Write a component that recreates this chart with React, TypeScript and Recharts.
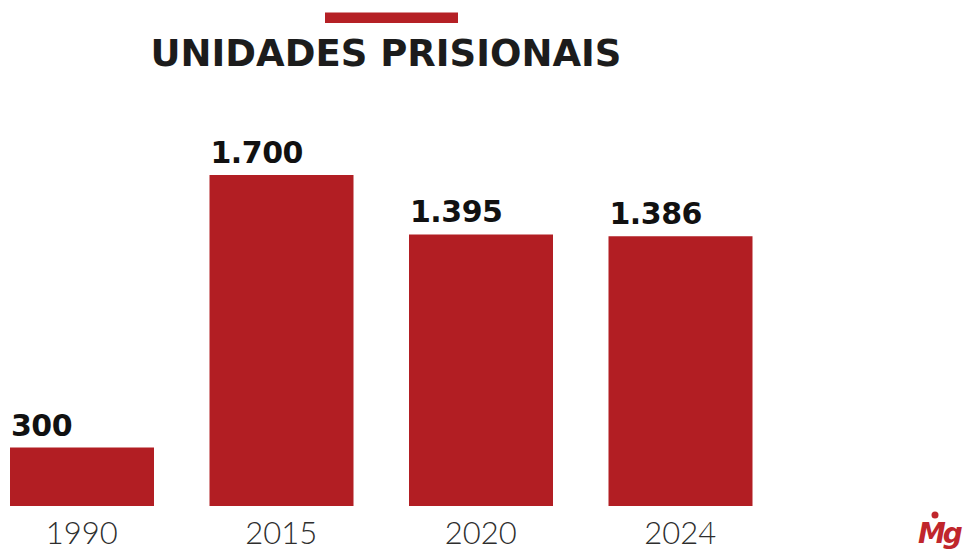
import { Bar, BarChart, Cell, LabelList, XAxis, YAxis } from "recharts"

// Número de unidades prisionais por ano
const anos = ["1990", "2015", "2020", "2024"]
const unidades = [300, 1700, 1395, 1386]

const data = anos.map((ano, i) => ({ ano, unidades: unidades[i] }))

const RED = "#b21e23"

// formato pt-BR: 1700 -> 1.700
function fmt(v: number) {
  return String(v).replace(/\B(?=(\d{3})+(?!\d))/g, ".")
}

function ValueLabel(props: any) {
  const { x, y, value } = props
  return (
    <text
      x={Number(x) + 1}
      y={Number(y) - 12}
      textAnchor="start"
      fill="#111"
      fontFamily="DejaVu Sans"
      fontWeight={700}
      fontSize={30}
      letterSpacing={-0.5}
    >
      {fmt(value)}
    </text>
  )
}

function YearTick(props: any) {
  const { x, y, payload } = props
  return (
    <text
      x={x}
      y={Number(y) + 30}
      textAnchor="middle"
      fill="#2e2e2e"
      fontFamily="Lato"
      fontWeight={300}
      fontSize={31}
    >
      {payload.value}
    </text>
  )
}

export default function App() {
  return (
    <div style={{ position: "absolute", left: 0, top: 0, width: 967, height: 553, background: "#fff" }}>
      <BarChart
        width={967}
        height={553}
        data={data}
        margin={{ top: 175, right: 187, left: -18, bottom: 0 }}
      >
        <XAxis
          dataKey="ano"
          axisLine={false}
          tickLine={false}
          height={47}
          interval={0}
          tick={<YearTick />}
        />
        <YAxis hide domain={[0, 1700]} />
        <Bar dataKey="unidades" barSize={144} isAnimationActive={false}>
          {data.map((d) => (
            <Cell key={d.ano} fill={RED} />
          ))}
          <LabelList dataKey="unidades" content={<ValueLabel />} />
        </Bar>
      </BarChart>
      <svg
        width={967}
        height={553}
        style={{ position: "absolute", left: 0, top: 0, pointerEvents: "none" }}
      >
        <rect x={325} y={12.5} width={133} height={10.5} fill="#b52025" />
        <text
          x={386}
          y={66}
          textAnchor="middle"
          fill="#1c1c1c"
          fontFamily="DejaVu Sans"
          fontWeight={700}
          fontSize={37}
        >
          UNIDADES PRISIONAIS
        </text>
        <text
          x={918}
          y={543}
          fill="#c0262c"
          fontFamily="DejaVu Sans"
          fontWeight={700}
          fontStyle="italic"
          fontSize={28}
          letterSpacing={-3}
        >
          Mg
        </text>
        <circle cx={935} cy={515} r={3.5} fill="#c0262c" />
      </svg>
    </div>
  )
}
